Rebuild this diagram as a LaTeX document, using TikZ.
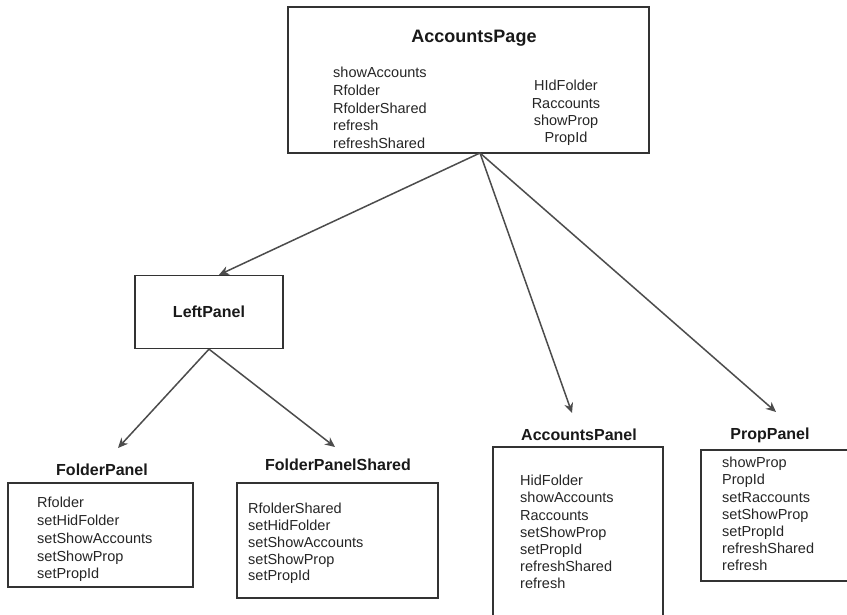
\documentclass[tikz,border=0pt]{standalone}
\usepackage{fontspec}
\setmainfont{Liberation Sans}
\usetikzlibrary{arrows.meta}

\tikzset{
  box/.style 2 args={draw=black!80, line width=1.3pt, minimum width=#1, minimum height=#2, inner sep=0pt},
  title/.style={font=\bfseries\fontsize{16}{19}\selectfont, text=black!90},
  items/.style={align=left, anchor=north west, inner sep=0pt, text=black!85, font=\fontsize{14.5}{#1}\selectfont},
  link/.style={draw=black!70, line width=1.5pt, -{Stealth[length=10pt,width=9pt]}}
}

\begin{document}
\begin{tikzpicture}[x=1pt,y=-1pt]
    \clip (0,0) rectangle (847,615);
    \fill[white] (0,0) rectangle (847,615);

    % top page
    \node[box={361}{146}] (ap) at (468.5,80) {};
    \node[title, font=\bfseries\fontsize{18}{21}\selectfont] (apt) at (474,38) {AccountsPage};
    \node[items=17.7] (apl) at (333,67) {showAccounts\\Rfolder\\RfolderShared\\refresh\\refreshShared};
    \node[items=17.3, align=center, anchor=north] (apr) at (566,80) {HIdFolder\\Raccounts\\showProp\\PropId};

    % left panel
    \node[box={148}{73}, title] (lp) at (209,312) {LeftPanel};

    % folder panels
    \node[title] (fpt) at (102,470) {FolderPanel};
    \node[box={185}{104}] (fp) at (100.5,535) {};
    \node[items=17.8] (fpl) at (37,497) {Rfolder\\setHidFolder\\setShowAccounts\\setShowProp\\setPropId};

    \node[title] (fpst) at (338,465) {FolderPanelShared};
    \node[box={201}{115}] (fps) at (337.5,540.5) {};
    \node[items=16.8] (fpsl) at (248,503) {RfolderShared\\setHidFolder\\setShowAccounts\\setShowProp\\setPropId};

    % accounts panel and prop panel
    \node[title] (acpt) at (579,435) {AccountsPanel};
    \node[box={170}{193}] (acp) at (578,543.5) {};
    \node[items=17.2] (acpl) at (520,475) {HidFolder\\showAccounts\\Raccounts\\setShowProp\\setPropId\\refreshShared\\refresh};

    \node[title] (ppt) at (770,435) {PropPanel};
    \node[box={169}{131}] (pp) at (785.5,515.5) {};
    \node[items=17.2] (ppl) at (722,457) {showProp\\PropId\\setRaccounts\\setShowProp\\setPropId\\refreshShared\\refresh};

    % arrows
    \coordinate (hub) at (480,153);
    \coordinate (fptip) at (118,448);
    \coordinate (fpstip) at (335,447);
    \coordinate (acptip) at (572,413);
    \coordinate (pptip) at (776,412);
    \draw[link] (hub) -- (lp.75);
    \draw[link] (hub) -- (acptip);
    \draw[link] (hub) -- (pptip);
    \draw[link] (lp.south) -- (fptip);
    \draw[link] (lp.south) -- (fpstip);
\end{tikzpicture}
\end{document}
